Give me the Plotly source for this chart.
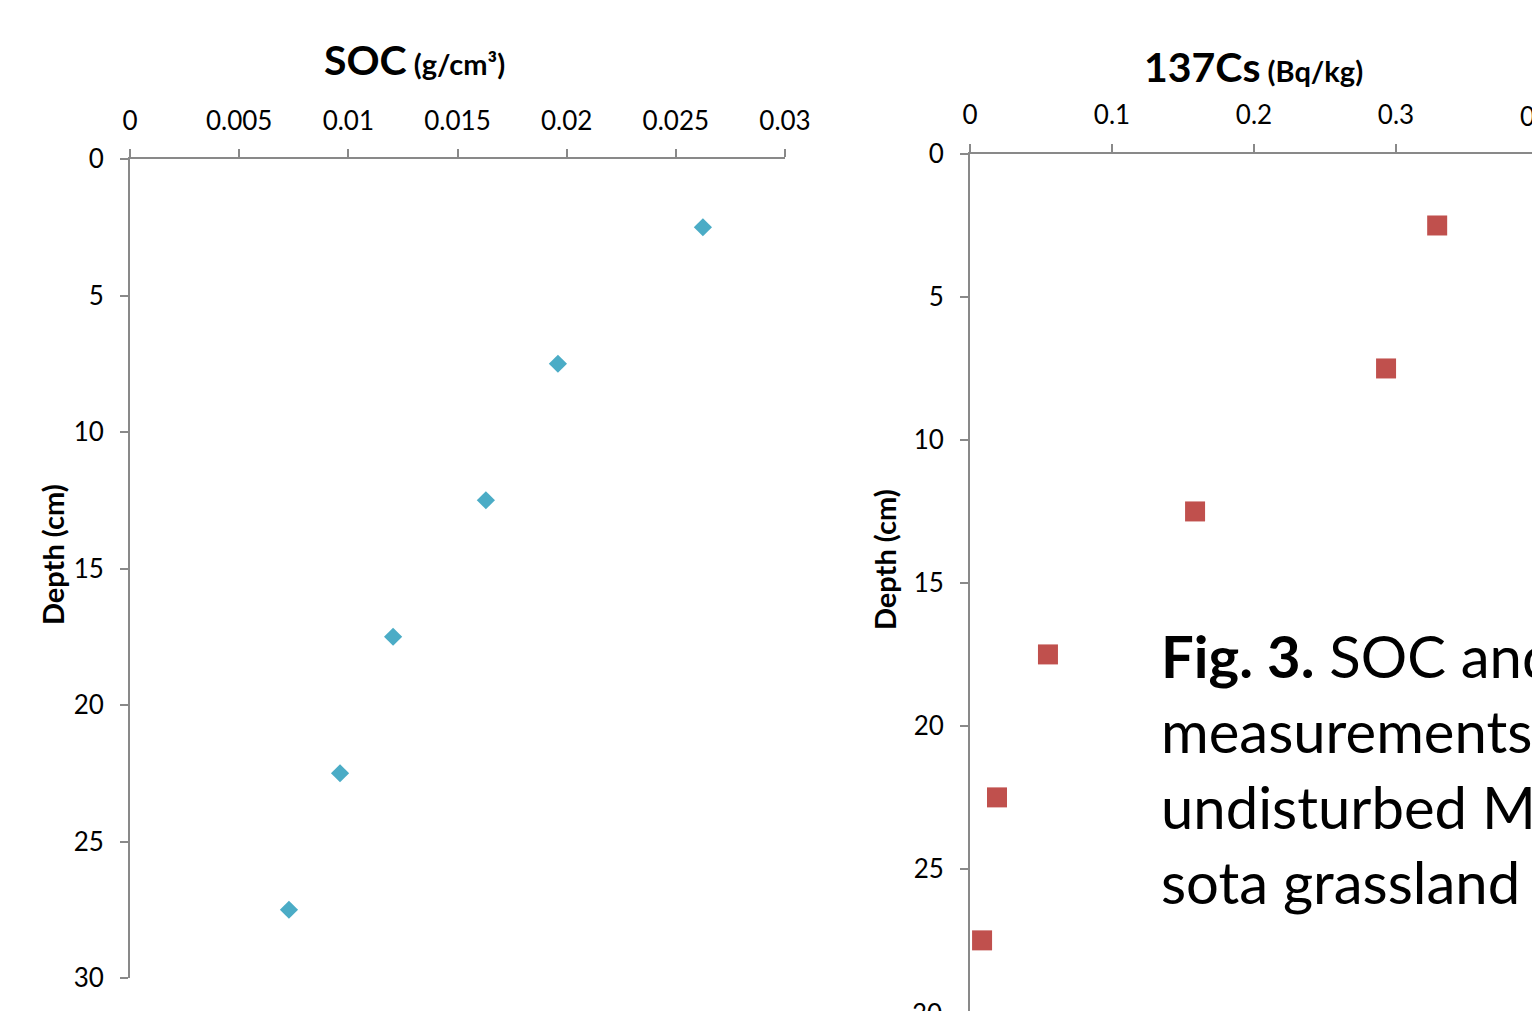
import plotly.graph_objects as go

# ---- data ----
depth_cm = [2.5, 7.5, 12.5, 17.5, 22.5, 27.5]
soc_g_cm3 = [0.02624, 0.0196, 0.0163, 0.01205, 0.00962, 0.00728]
cs137_bq_kg = [0.329, 0.293, 0.1585, 0.0549, 0.019, 0.0085]

soc_ticks = [0, 0.005, 0.01, 0.015, 0.02, 0.025, 0.03]
soc_ticktext = ["0", "0.005", "0.01", "0.015", "0.02", "0.025", "0.03"]
cs_ticks = [0, 0.1, 0.2, 0.3]
cs_ticktext = ["0", "0.1", "0.2", "0.3"]
depth_ticks = [0, 5, 10, 15, 20, 25, 30]

W, H = 1532, 1011
FONT = "Lato, 'Open Sans', sans-serif"
AXC = "#898989"
TICKSIZE = 26

def px_x(p):
    return p / W

def px_y(p):
    return 1 - p / H

fig = go.Figure()
fig.add_trace(go.Scatter(
    x=soc_g_cm3, y=depth_cm, mode="markers", xaxis="x", yaxis="y",
    marker=dict(symbol="diamond", size=14, color="#4BACC6"), showlegend=False))
fig.add_trace(go.Scatter(
    x=cs137_bq_kg, y=depth_cm, mode="markers", xaxis="x2", yaxis="y2",
    marker=dict(symbol="square", size=20, color="#C0504D"), showlegend=False))

common_axis = dict(showline=True, linecolor=AXC, linewidth=2, ticks="outside",
                   ticklen=8, tickwidth=2, tickcolor=AXC, showgrid=False,
                   zeroline=False, automargin=False,
                   tickfont=dict(family=FONT, size=TICKSIZE, color="black"))

fig.update_layout(
    template="none",
    width=W, height=H,
    margin=dict(l=0, r=0, t=0, b=0, pad=0),
    paper_bgcolor="white", plot_bgcolor="white",
    font=dict(family=FONT, color="black"),
    xaxis=dict(common_axis, side="top", range=[0, 0.03], domain=[px_x(130), px_x(785)],
               anchor="y", tickvals=soc_ticks, ticktext=soc_ticktext, ticklabelstandoff=9),
    yaxis=dict(common_axis, range=[30, 0], domain=[px_y(978), px_y(159)], anchor="x",
               tickvals=depth_ticks, ticklabelstandoff=11),
    xaxis2=dict(common_axis, side="top", range=[0, (W - 970) / 1420.0], domain=[px_x(970), 1],
                anchor="y2", tickvals=cs_ticks, ticktext=cs_ticktext, ticklabelstandoff=10),
    yaxis2=dict(common_axis, range=[29.97, 0], domain=[0, px_y(154)], anchor="x2",
                tickvals=depth_ticks[:-1], ticklabelstandoff=11),
)

ann = []
ann.append(dict(xref="paper", yref="paper", x=px_x(322), y=px_y(59), xanchor="left", yanchor="middle",
                showarrow=False,
                text="<b><span style='font-size:41px'>SOC</span> (g/cm³)</b>",
                font=dict(family=FONT, size=29, color="black")))
ann.append(dict(xref="paper", yref="paper", x=px_x(1142), y=px_y(66), xanchor="left", yanchor="middle",
                showarrow=False,
                text="<b><span style='font-size:41px'>137Cs</span> (Bq/kg)</b>",
                font=dict(family=FONT, size=29, color="black")))
ann.append(dict(xref="paper", yref="paper", x=px_x(52), y=px_y(555), textangle=-90,
                xanchor="center", yanchor="middle", showarrow=False,
                text="<b>Depth (cm)</b>", font=dict(family=FONT, size=29, color="black")))
ann.append(dict(xref="paper", yref="paper", x=px_x(884), y=px_y(560), textangle=-90,
                xanchor="center", yanchor="middle", showarrow=False,
                text="<b>Depth (cm)</b>", font=dict(family=FONT, size=29, color="black")))
# clipped tick labels at the figure edges (0.4 on the right x-axis, 30 on the right y-axis)
ann.append(dict(xref="paper", yref="paper", x=1538 / W, y=px_y(116), xanchor="center", yanchor="middle",
                showarrow=False, text="0.4", font=dict(family=FONT, size=TICKSIZE, color="black")))
ann.append(dict(xref="paper", yref="paper", x=px_x(944), y=px_y(1013), xanchor="right", yanchor="middle",
                showarrow=False, text="30", font=dict(family=FONT, size=TICKSIZE, color="black")))
# caption
ann.append(dict(xref="paper", yref="paper", x=px_x(1159), y=px_y(619), xanchor="left", yanchor="top",
                showarrow=False, align="left",
                text="<b>Fig. 3.</b> SOC and 137Cs<br>measurements in an<br>undisturbed Minne-<br>sota grassland",
                font=dict(family=FONT, size=58, color="black")))
fig.update_layout(annotations=ann)

fig.write_html("out.html",
               config={"displayModeBar": False},
               post_script="document.body.style.margin='0';document.body.style.overflow='hidden';"
                           "document.documentElement.style.overflow='hidden';")
